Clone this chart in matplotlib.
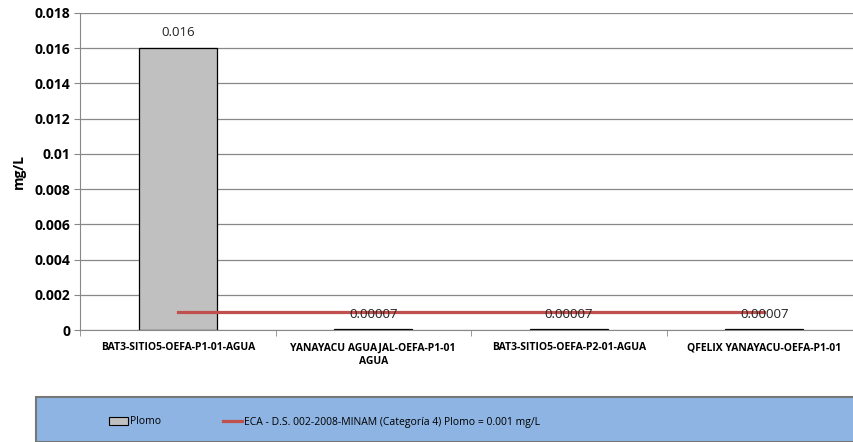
import matplotlib.pyplot as plt
from matplotlib.patches import Rectangle
from matplotlib.lines import Line2D
import numpy as np

# data
categorias = ['BAT3-SITIO5-OEFA-P1-01-AGUA', 'YANAYACU AGUAJAL-OEFA-P1-01\nAGUA',
              'BAT3-SITIO5-OEFA-P2-01-AGUA', 'QFELIX YANAYACU-OEFA-P1-01']
plomo = [0.016, 0.00007, 0.00007, 0.00007]
etiquetas = ['0.016', '0.00007', '0.00007', '0.00007']
eca = [0.001, 0.001, 0.001, 0.001]

plt.rcParams['font.family'] = ['Open Sans', 'DejaVu Sans']

fig = plt.figure(figsize=(8.54, 4.42), dpi=100)
ax = fig.add_axes([80 / 854, 1 - 330 / 442, 782 / 854, 317 / 442])

x = np.arange(len(categorias))
ax.bar(x, plomo, width=0.4, color='#c0c0c0', edgecolor='black', linewidth=0.9, zorder=2)
ax.plot(x, eca, color='#c0504d', linewidth=2.3, zorder=3)

for i, (v, t) in enumerate(zip(plomo, etiquetas)):
    off = 0.0005 if v > 0.001 else 0.00045
    ax.text(i, v + off, t, ha='center', va='bottom', fontsize=9.5, color='#222222', zorder=4)

ax.set_xlim(-0.5, 3.5)
ax.set_ylim(0, 0.018)
ax.set_yticks(np.arange(0, 0.0181, 0.002))
ax.set_yticklabels(['0', '0.002', '0.004', '0.006', '0.008', '0.01', '0.012', '0.014', '0.016', '0.018'],
                   fontsize=10, fontweight='bold')
ax.set_xticks(x)
ax.set_xticklabels(categorias, fontsize=7.5, fontweight='bold', linespacing=1.3)
ax.set_xticks(np.arange(-0.5, 3.6, 1), minor=True)
ax.tick_params(axis='x', which='major', length=0, pad=9)
ax.tick_params(axis='x', which='minor', length=4, color='#888888')
ax.tick_params(axis='y', length=4, color='#888888', pad=3)
ax.grid(axis='y', color='#888888', linewidth=0.9, zorder=0)
for s in ['top', 'right']:
    ax.spines[s].set_visible(False)
ax.spines['left'].set_color('#888888')
ax.spines['bottom'].set_color('#888888')
ax.set_ylabel('mg/L', fontsize=10, fontweight='bold', labelpad=6)

# legend band
fig.patches.append(Rectangle((36 / 854, 0), 1, 45 / 442, transform=fig.transFigure,
                             facecolor='#8db4e2', edgecolor='#777777', linewidth=1.5, zorder=0))
handles = [Rectangle((0, 0), 1, 1, facecolor='#c0c0c0', edgecolor='black', linewidth=0.8),
           Line2D([0], [0], color='#c0504d', linewidth=2.3)]
fig.legend(handles, ['Plomo', 'ECA - D.S. 002-2008-MINAM (Categoría 4) Plomo = 0.001 mg/L'],
           loc='center left', bbox_to_anchor=(100 / 854, 20 / 442), ncol=2, frameon=False,
           prop={'family': ['Open Sans', 'DejaVu Sans'], 'size': 7.5},
           columnspacing=6.0, handlelength=1.8, handletextpad=0.15)

fig.savefig('out.png', dpi=100)
